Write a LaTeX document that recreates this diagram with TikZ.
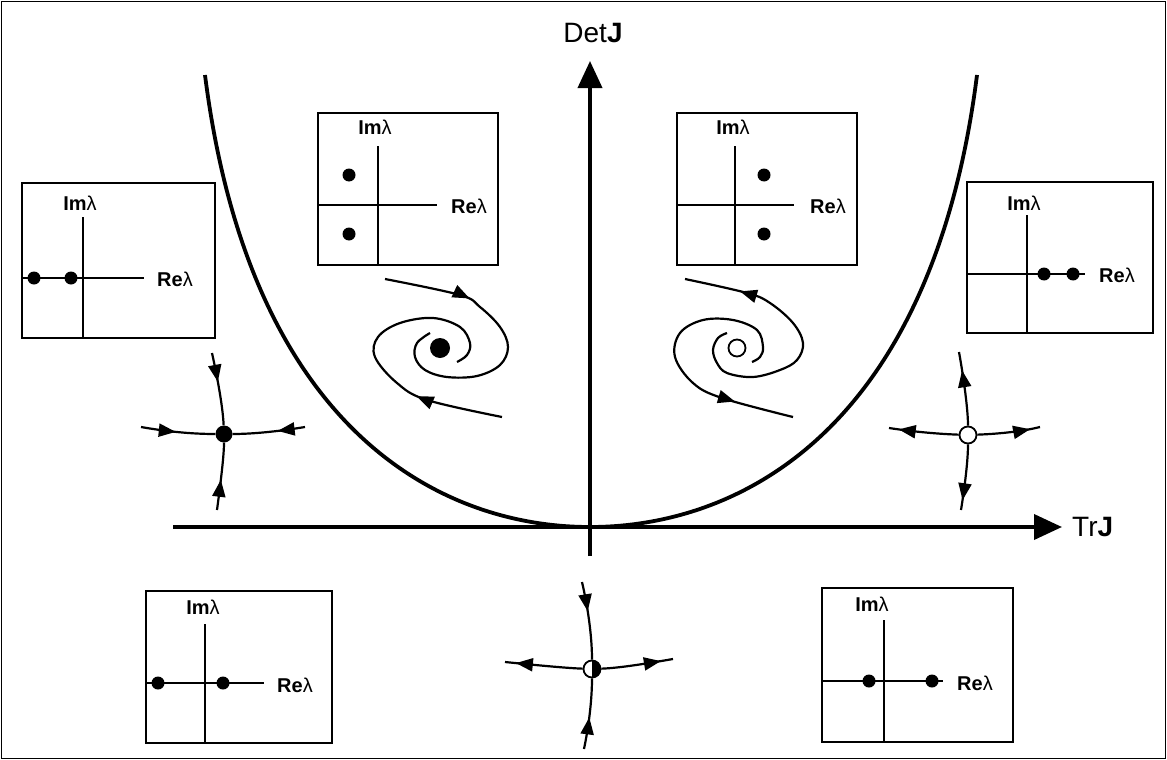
\documentclass[tikz,border=0pt]{standalone}
\usepackage{fontspec}
\setmainfont{Liberation Sans}
\usetikzlibrary{arrows.meta,decorations.markings}
\tikzset{
  ph/.style={line width=2.2pt},
  ax/.style={line width=3.8pt},
  boxline/.style={line width=1.6pt},
  fwd/.style={postaction={decorate,decoration={markings,mark=at position #1 with {\arrow{Triangle[length=17pt,width=13pt]}}}}},
  tiponly/.style={line width=2.2pt,-{Triangle[length=17pt,width=13pt]}},
  fdot/.style={circle,fill=black,inner sep=0pt,minimum size=#1},
  odot/.style={circle,draw=black,fill=white,line width=1.8pt,inner sep=0pt,minimum size=#1},
  evdot/.style={circle,fill=black,inner sep=0pt,minimum size=13pt},
  boxlab/.style={inner sep=0pt,font=\fontsize{20}{22}\selectfont},
  axlab/.style={inner sep=0pt,font=\fontsize{28}{32}\selectfont},
}
\begin{document}
\begin{tikzpicture}[x=1pt,y=-1pt]
\useasboundingbox (0,0) rectangle (1167,760);
\draw[line width=1.5pt] (1.5,1.5) rectangle (1165.5,758.5);

% axes
\coordinate (hx0) at (173,527);
\coordinate (hx1) at (1062,527);
\coordinate (vy0) at (590,556);
\coordinate (vy1) at (590,61);
\draw[ax,-{Triangle[length=28pt,width=25pt]}] (hx0) -- (hx1);
\draw[ax,-{Triangle[length=27pt,width=24pt]}] (vy0) -- (vy1);
\node[axlab,anchor=west] (trl) at (1072,527) {Tr\textbf{J}};
\node[axlab] (detl) at (593,33) {Det\textbf{J}};

% parabola (left and right branches)
\coordinate (pl) at (205,75);
\coordinate (p0) at (590,527);
\coordinate (pr) at (977,75);
\draw[ax] (pl) .. controls (250,430) and (440,527) .. (p0) .. controls (740,527) and (932,430) .. (pr);

% ---- eigenvalue boxes ----
% box 1 (top-left, stable focus)
\draw[boxline] (318,113) rectangle (498,265);
\draw[boxline] (378,146) -- (378,265);
\draw[boxline] (318,205) -- (437,205);
\node[evdot] (e11) at (349,175) {};
\node[evdot] (e12) at (349,234) {};
\node[boxlab] (i1) at (375,127) {\textbf{Im}λ};
\node[boxlab] (r1) at (469,206) {\textbf{Re}λ};

% box 2 (top-right, unstable focus)
\draw[boxline] (677,113) rectangle (857,265);
\draw[boxline] (735,146) -- (735,265);
\draw[boxline] (677,205) -- (794,205);
\node[evdot] (e21) at (764,175) {};
\node[evdot] (e22) at (764,234) {};
\node[boxlab] (i2) at (733,127) {\textbf{Im}λ};
\node[boxlab] (r2) at (828,206) {\textbf{Re}λ};

% box 3 (left, stable node)
\draw[boxline] (22,183) rectangle (215,338);
\draw[boxline] (83,217) -- (83,338);
\draw[boxline] (22,278) -- (144,278);
\node[evdot] (e31) at (34,278) {};
\node[evdot] (e32) at (71,278) {};
\node[boxlab] (i3) at (80,203) {\textbf{Im}λ};
\node[boxlab] (r3) at (175,279) {\textbf{Re}λ};

% box 4 (right, unstable node)
\draw[boxline] (967,182) rectangle (1153,333);
\draw[boxline] (1027,215) -- (1027,333);
\draw[boxline] (967,274) -- (1085,274);
\node[evdot] (e41) at (1044,274) {};
\node[evdot] (e42) at (1073,274) {};
\node[boxlab] (i4) at (1024,203) {\textbf{Im}λ};
\node[boxlab] (r4) at (1117,275) {\textbf{Re}λ};

% box 5 (bottom-left, saddle)
\draw[boxline] (146,591) rectangle (332,743);
\draw[boxline] (205,624) -- (205,743);
\draw[boxline] (146,683) -- (264,683);
\node[evdot] (e51) at (158,683) {};
\node[evdot] (e52) at (223,683) {};
\node[boxlab] (i5) at (203,607) {\textbf{Im}λ};
\node[boxlab] (r5) at (295,685) {\textbf{Re}λ};

% box 6 (bottom-right, saddle)
\draw[boxline] (822,588) rectangle (1013,742);
\draw[boxline] (884,620) -- (884,742);
\draw[boxline] (822,681) -- (943,681);
\node[evdot] (e61) at (869,681) {};
\node[evdot] (e62) at (932,681) {};
\node[boxlab] (i6) at (872,604) {\textbf{Im}λ};
\node[boxlab] (r6) at (975,683) {\textbf{Re}λ};

% ---- stable node (left) ----
\node[fdot=17pt] (n1) at (224,434) {};
\coordinate (n1t) at (212,353);
\coordinate (n1b) at (217,510);
\coordinate (n1l) at (141,427);
\coordinate (n1r) at (305,427);
\draw[ph,fwd=0.40] (n1t) .. controls (219,385) and (223,410) .. (n1);
\draw[ph,fwd=0.45] (n1b) .. controls (221,480) and (224,455) .. (n1);
\draw[ph,fwd=0.47] (n1l) .. controls (175,433) and (200,434) .. (n1);
\draw[ph,fwd=0.38] (n1r) .. controls (275,432) and (250,434) .. (n1);

% ---- unstable node (right) ----
\node[odot=17pt] (n2) at (968,435) {};
\coordinate (n2t) at (959,352);
\coordinate (n2b) at (961,510);
\coordinate (n2l) at (889,428);
\coordinate (n2r) at (1040,427);
\draw[ph,fwd=0.75] (n2) .. controls (968,410) and (964,380) .. (n2t);
\draw[ph,fwd=0.85] (n2) .. controls (968,460) and (965,485) .. (n2b);
\draw[ph,fwd=0.86] (n2) .. controls (940,434) and (915,432) .. (n2l);
\draw[ph,fwd=0.84] (n2) .. controls (995,434) and (1020,432) .. (n2r);

% ---- saddle (bottom) ----
\node[odot=17pt] (n3) at (592,669) {};
\fill (592,677.5) arc[start angle=90,end angle=-90,radius=8.5] -- cycle;
\coordinate (n3t) at (582,582);
\coordinate (n3b) at (584,749);
\coordinate (n3l) at (505,662);
\coordinate (n3r) at (673,659);
\draw[ph,fwd=0.38] (n3t) .. controls (589,612) and (592,640) .. (n3);
\draw[ph,fwd=0.45] (n3b) .. controls (590,720) and (592,695) .. (n3);
\draw[ph,fwd=0.86] (n3) .. controls (565,668) and (535,665) .. (n3l);
\draw[ph,fwd=0.83] (n3) .. controls (620,668) and (650,663) .. (n3r);

% ---- stable focus (left spiral) ----
\node[fdot=20pt] (f1) at (440,348) {};
\draw[ph,fwd=87pt] plot[smooth,tension=0.6] coordinates {(385,279) (460,295) (480,307) (500,327) (508,347) (500,365) (477,376) (447,377) (425,370) (415,357) (417,343) (430,333)};
\draw[ph,fwd=88pt] plot[smooth,tension=0.6] coordinates {(502,417) (427,400) (397,383) (375,357) (378,337) (400,323) (433,318) (460,327) (470,343) (467,355) (457,362)};

% ---- unstable focus (right spiral) ----
\node[odot=17pt] (f2) at (737,348) {};
\draw[ph] plot[smooth,tension=0.6] coordinates {(685,279) (747,293) (770,303) (793,323) (803,343) (797,360) (780,370) (753,377) (727,373) (717,363) (713,350) (718,338) (727,333)};
\draw[ph] plot[smooth,tension=0.6] coordinates {(793,417) (722,398) (693,383) (675,357) (680,333) (703,320) (733,320) (757,330) (763,347) (760,357) (752,362)};
\coordinate (a1s) at (756.3,296.3);
\coordinate (a1e) at (740,291.4);
\coordinate (a2s) at (718.7,396.6);
\coordinate (a2e) at (735,401.5);
\draw[tiponly] (a1s) -- (a1e);
\draw[tiponly] (a2s) -- (a2e);
\end{tikzpicture}
\end{document}
